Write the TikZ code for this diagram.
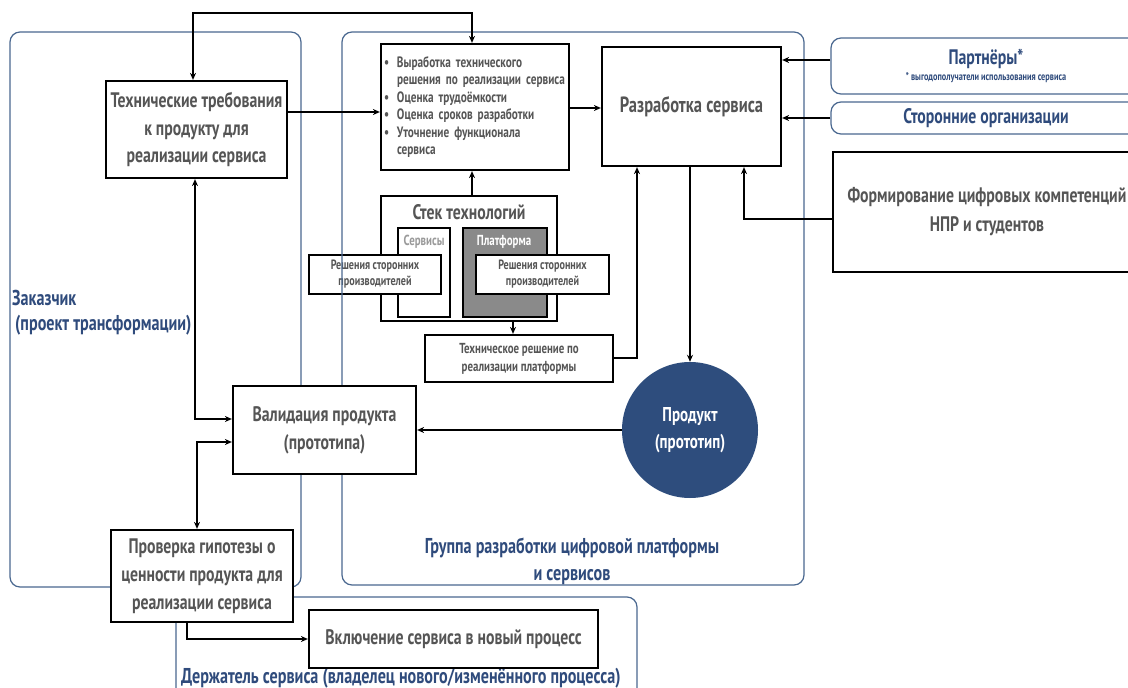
\documentclass[tikz,border=0pt]{standalone}
\usepackage{fontspec}
\setmainfont{PT Sans}[FakeStretch=0.75]
\usetikzlibrary{arrows.meta}
\definecolor{cblue}{HTML}{2F4B7C}
\definecolor{cborder}{HTML}{4A6890}
\definecolor{ctext}{HTML}{555555}
\definecolor{cgray}{HTML}{8A8A8A}
\definecolor{clight}{HTML}{9A9A9A}
\definecolor{cprod}{HTML}{2E4D7D}
\newcommand{\fs}[2]{\fontsize{#1}{#2}\selectfont}
\begin{document}
\begin{tikzpicture}[x=1pt,y=-1pt,
 box/.style={draw=black, line width=2.2pt, fill=white, inner sep=0pt, font=\bfseries, text=ctext, align=center},
 rbox/.style={draw=cborder, line width=1.2pt, rounded corners=10pt, fill=white, inner sep=0pt, font=\bfseries, text=cblue, align=center},
 cont/.style={draw=cborder, line width=1.2pt, rounded corners=10pt},
 arr/.style={-{Stealth[length=7pt,width=6pt]}, line width=1.3pt},
 darr/.style={{Stealth[length=7pt,width=6pt]}-{Stealth[length=7pt,width=6pt]}, line width=1.3pt},
 lbl/.style={font=\bfseries, text=cblue, inner sep=0pt}
]
\useasboundingbox (0,0) rectangle (1128,688);
\clip (0,0) rectangle (1128,688);
\fill[white] (0,0) rectangle (1128,688);

% technology stack (drawn before containers)
\node[box, minimum width=176pt, minimum height=125pt] (stek) at (469,258.5) {};
\node[font=\bfseries\fs{21}{24}, text=ctext, inner sep=0pt] (stekt) at (469,212) {Стек технологий};
\node[box, minimum width=52pt, minimum height=89pt] (serv) at (424,272.5) {};
\node[font=\bfseries\fs{14.5}{16}, text=clight, inner sep=0pt] (servt) at (424,242) {Сервисы};
\node[box, fill=cgray, minimum width=84pt, minimum height=89pt] (plat) at (505,272.5) {};
\node[font=\bfseries\fs{14.5}{16}, text=white, inner sep=0pt] (platt) at (504,242) {Платформа};
\node[box, font=\bfseries\fs{13.5}{16}, minimum width=132pt, minimum height=39pt] (resh1) at (375,274.5) {Решения сторонних\\производителей};
\node[box, font=\bfseries\fs{13.5}{16}, minimum width=133pt, minimum height=39pt] (resh2) at (542.5,274.5) {Решения сторонних\\производителей};

% containers
\draw[cont] (10,32) rectangle (301,587);
\draw[cont] (342,32) rectangle (804,585);
\draw[cont] (176,597) rectangle (637,720);

% labels of containers
\node[lbl, anchor=west, font=\bfseries\fs{21.5}{24}] (zak1) at (12,298) {Заказчик};
\node[lbl, anchor=west, font=\bfseries\fs{21.5}{24}] (zak2) at (15,325) {(проект трансформации)};
\node[lbl, align=center, font=\bfseries\fs{21.5}{27}] (grp) at (572,561.5) {Группа разработки цифровой платформы\\и сервисов};
\node[lbl, anchor=west, font=\bfseries\fs{21.5}{24}] (der) at (181,678) {Держатель сервиса (владелец нового/изменённого процесса)};

% main boxes
\node[box, font=\bfseries\fs{21}{27.5}, minimum width=181pt, minimum height=97pt] (tt) at (196.5,129.5) {Технические требования\\к продукту для\\реализации сервиса};
\node[box, font=\bfseries\fs{15}{17.5}, align=left, minimum width=188pt, minimum height=126pt, text width=182pt] (vyr) at (475,107)
 {\makebox[13pt][l]{•}Выработка технического\\\hspace*{13pt}решения по реализации сервиса\\\makebox[13pt][l]{•}Оценка трудоёмкости\\\makebox[13pt][l]{•}Оценка сроков разработки\\\makebox[13pt][l]{•}Уточнение функционала\\\hspace*{13pt}сервиса};
\node[box, font=\bfseries\fs{22}{24}, minimum width=179pt, minimum height=119pt] (raz) at (691.5,106.5) {Разработка сервиса};
\node[rbox, minimum width=310pt, minimum height=56pt] (part) at (986,66) {\fs{21}{22}Партнёры*\\[2pt]\fs{11}{12}* выгодополучатели использования сервиса};
\node[rbox, font=\bfseries\fs{21}{22}, minimum width=310pt, minimum height=32pt] (sto) at (986,118) {Сторонние организации};
\node[box, font=\bfseries\fs{21}{29}, minimum width=308pt, minimum height=120pt] (form) at (987,212) {Формирование цифровых компетенций\\НПР и студентов};
\node[box, font=\bfseries\fs{14.5}{18}, minimum width=188pt, minimum height=47pt] (tehr) at (519,358.5) {Техническое решение по\\реализации платформы};
\node[circle, fill=cprod, minimum size=136pt, inner sep=0pt, font=\bfseries\fs{20}{27}, text=white, align=center] (prod) at (690,430) {Продукт\\(прототип)};
\node[box, font=\bfseries\fs{21}{28}, minimum width=183pt, minimum height=88pt] (val) at (324.5,430) {Валидация продукта\\(прототипа)};
\node[box, font=\bfseries\fs{21}{28}, minimum width=182pt, minimum height=92pt] (prov) at (202,576) {Проверка гипотезы о\\ценности продукта для\\реализации сервиса};
\node[box, font=\bfseries\fs{21}{24}, minimum width=289pt, minimum height=58pt] (vkl) at (453.5,639) {Включение сервиса в новый процесс};

% connectors
\draw[darr] (tt.north -| 193,0) -- ++(0,-67) -| (vyr.north -| 472,0);
\draw[arr] (tt.east |- 0,112) -- (vyr.west |- 0,112);
\draw[arr] (vyr.east |- 0,108) -- (raz.west |- 0,108);
\draw[arr] (part.west |- 0,60) -- (raz.east |- 0,60);
\draw[arr] (sto.west) -- (raz.east |- sto.west);
\draw[arr] (form.west |- 0,219) -| (raz.south -| 744,0);
\draw[arr] (stek.north -| 472,0) -- (vyr.south -| 472,0);
\draw[arr] (stek.south -| 513,0) -- (tehr.north -| 513,0);
\draw[arr] (tehr.east |- 0,358) -| (raz.south -| 637,0);
\draw[arr] (raz.south -| prod.north) -- (prod.north);
\draw[arr] (prod.west) -- (val.east);
\draw[darr] (tt.south -| 195,0) |- (val.west |- 0,419);
\draw[darr] (val.west |- 0,442) -| (prov.north -| 197,0);
\draw[arr] (prov.south -| 187,0) |- (vkl.west);
\end{tikzpicture}
\end{document}
